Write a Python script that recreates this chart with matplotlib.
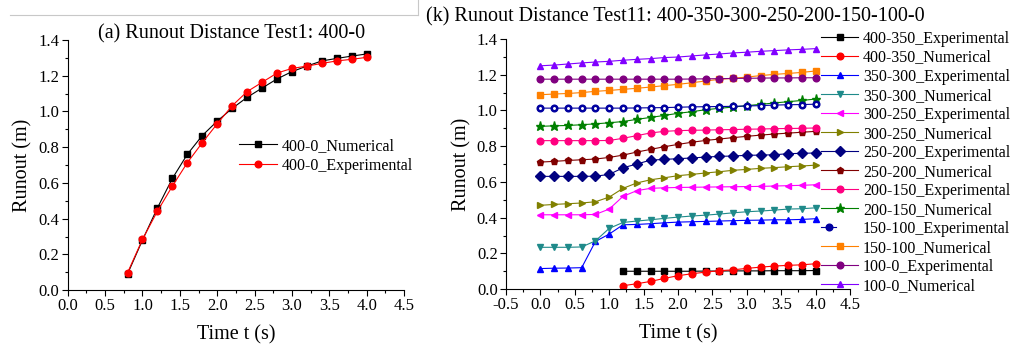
import matplotlib
matplotlib.use("Agg")
import matplotlib.pyplot as plt
from matplotlib.ticker import MultipleLocator, FormatStrFormatter
from matplotlib.legend_handler import HandlerTuple
from matplotlib.lines import Line2D

plt.rcParams['font.family'] = ['Liberation Serif', 'DejaVu Serif']

# ---- Test1: 400-0 ----
t1 = [0.8, 1.0, 1.2, 1.4, 1.6, 1.8, 2.0, 2.2, 2.4, 2.6, 2.8, 3.0, 3.2, 3.4, 3.6, 3.8, 4.0]
t1_num = [0.09, 0.28, 0.46, 0.625, 0.76, 0.865, 0.946, 1.017, 1.079, 1.131, 1.182,
          1.223, 1.254, 1.283, 1.297, 1.31, 1.322]
t1_exp = [0.097, 0.284, 0.442, 0.582, 0.713, 0.825, 0.931, 1.032, 1.111, 1.163, 1.215,
          1.241, 1.254, 1.269, 1.283, 1.292, 1.303]

# ---- Test11: 400-350-300-250-200-150-100-0 ----
t_full = [0.0, 0.2, 0.4, 0.6, 0.8, 1.0, 1.2, 1.4, 1.6, 1.8, 2.0, 2.2, 2.4, 2.6, 2.8,
          3.0, 3.2, 3.4, 3.6, 3.8, 4.0]
t_late = t_full[6:]

s400_350_exp = [0.100, 0.100, 0.100, 0.100, 0.100, 0.100, 0.101, 0.101, 0.102, 0.102,
                0.102, 0.103, 0.103, 0.103, 0.104]
s400_350_num = [0.019, 0.030, 0.043, 0.060, 0.075, 0.086, 0.095, 0.103, 0.108, 0.116,
                0.123, 0.129, 0.133, 0.136, 0.142]
s350_300_exp = [0.115, 0.117, 0.118, 0.120, 0.267, 0.308, 0.360, 0.362, 0.366, 0.371,
                0.375, 0.377, 0.379, 0.381, 0.383, 0.385, 0.386, 0.388, 0.388, 0.390, 0.394]
s350_300_num = [0.234, 0.234, 0.234, 0.236, 0.270, 0.340, 0.373, 0.381, 0.388, 0.396,
                0.403, 0.409, 0.414, 0.420, 0.427, 0.433, 0.437, 0.442, 0.448, 0.450, 0.455]
s300_250_exp = [0.416, 0.416, 0.416, 0.416, 0.418, 0.448, 0.519, 0.551, 0.564, 0.567,
                0.569, 0.570, 0.571, 0.572, 0.573, 0.574, 0.575, 0.577, 0.579, 0.581, 0.584]
s300_250_num = [0.469, 0.474, 0.478, 0.482, 0.489, 0.515, 0.564, 0.594, 0.612, 0.623,
                0.635, 0.642, 0.650, 0.657, 0.665, 0.670, 0.676, 0.680, 0.685, 0.689, 0.694]
s250_200_exp = [0.631, 0.631, 0.631, 0.631, 0.632, 0.642, 0.679, 0.700, 0.722, 0.726,
                0.730, 0.734, 0.739, 0.743, 0.745, 0.749, 0.750, 0.752, 0.758, 0.760, 0.762]
s250_200_num = [0.711, 0.715, 0.720, 0.724, 0.728, 0.737, 0.750, 0.767, 0.782, 0.797,
                0.810, 0.822, 0.832, 0.840, 0.848, 0.855, 0.862, 0.868, 0.873, 0.878, 0.883]
s200_150_exp = [0.831, 0.831, 0.831, 0.831, 0.831, 0.832, 0.844, 0.859, 0.874, 0.883,
                0.887, 0.889, 0.890, 0.892, 0.893, 0.895, 0.896, 0.898, 0.899, 0.900, 0.902]
s200_150_num = [0.911, 0.914, 0.916, 0.920, 0.925, 0.931, 0.938, 0.950, 0.961, 0.972,
                0.984, 0.993, 1.004, 1.012, 1.019, 1.027, 1.034, 1.042, 1.049, 1.056, 1.064]
s150_100_exp = [1.013, 1.013, 1.013, 1.013, 1.013, 1.013, 1.013, 1.014, 1.015, 1.016,
                1.018, 1.020, 1.021, 1.022, 1.023, 1.025, 1.027, 1.030, 1.032, 1.033, 1.035]
s150_100_num = [1.088, 1.092, 1.095, 1.100, 1.107, 1.112, 1.118, 1.124, 1.131, 1.139,
                1.146, 1.155, 1.165, 1.174, 1.180, 1.187, 1.195, 1.202, 1.207, 1.213, 1.221]
s100_0_exp = [1.175, 1.175, 1.175, 1.175, 1.175, 1.175, 1.175, 1.175, 1.175, 1.175,
              1.175, 1.176, 1.177, 1.178, 1.179, 1.180, 1.181, 1.182, 1.182, 1.183, 1.183]
s100_0_num = [1.250, 1.254, 1.260, 1.266, 1.271, 1.275, 1.281, 1.286, 1.290, 1.296,
              1.299, 1.305, 1.311, 1.316, 1.322, 1.326, 1.331, 1.335, 1.339, 1.342, 1.346]

series = [
    ("400-350_Experimental", t_late, s400_350_exp, "#000000", "s"),
    ("400-350_Numerical", t_late, s400_350_num, "#FF0000", "o"),
    ("350-300_Experimental", t_full, s350_300_exp, "#0000FF", "^"),
    ("350-300_Numerical", t_full, s350_300_num, "#1F8A8A", "v"),
    ("300-250_Experimental", t_full, s300_250_exp, "#FF00FF", "<"),
    ("300-250_Numerical", t_full, s300_250_num, "#808000", ">"),
    ("250-200_Experimental", t_full, s250_200_exp, "#000080", "D"),
    ("250-200_Numerical", t_full, s250_200_num, "#800000", "p"),
    ("200-150_Experimental", t_full, s200_150_exp, "#FF0080", "o"),
    ("200-150_Numerical", t_full, s200_150_num, "#008000", "*"),
    ("150-100_Experimental", t_full, s150_100_exp, "#0000A0", "o"),
    ("150-100_Numerical", t_full, s150_100_num, "#FF8000", "s"),
    ("100-0_Experimental", t_full, s100_0_exp, "#800080", "o"),
    ("100-0_Numerical", t_full, s100_0_num, "#8000FF", "^"),
]

fig = plt.figure(figsize=(10.11, 3.45), dpi=100)
ax1 = fig.add_axes([0.067, 0.159, 0.3326, 0.725])
ax2 = fig.add_axes([0.5005, 0.162, 0.3403, 0.725])


def style_axes(ax, xmin):
    for side in ("top", "right"):
        ax.spines[side].set_visible(False)
    ax.set_xlim(xmin, 4.5)
    ax.set_ylim(0, 1.4)
    ax.xaxis.set_major_locator(MultipleLocator(0.5))
    ax.xaxis.set_minor_locator(MultipleLocator(0.25))
    ax.yaxis.set_major_locator(MultipleLocator(0.2))
    ax.yaxis.set_minor_locator(MultipleLocator(0.1))
    ax.xaxis.set_major_formatter(FormatStrFormatter('%.1f'))
    ax.yaxis.set_major_formatter(FormatStrFormatter('%.1f'))
    ax.tick_params(which='major', direction='out', length=4, width=0.8, labelsize=12, pad=2)
    ax.tick_params(which='minor', direction='out', length=2.2, width=0.8)
    ax.set_xlabel("Time t (s)", fontsize=14.5, labelpad=8)
    ax.set_ylabel("Runout (m)", fontsize=14.5, labelpad=4)


# left panel
ax1.plot(t1, t1_num, color='black', lw=0.8, marker='s', ms=4.5, label="400-0_Numerical")
ax1.plot(t1, t1_exp, color='#FF0000', lw=0.8, marker='o', ms=4.8, label="400-0_Experimental")
style_axes(ax1, 0.0)
ax1.legend(loc='upper left', bbox_to_anchor=(0.49, 0.635), frameon=False, fontsize=11.5,
           handlelength=2.4, handletextpad=0.3, labelspacing=0.25, borderaxespad=0)
fig.text(0.229, 0.903, "(a) Runout Distance Test1: 400-0", fontsize=14.5, ha='center', va='center')

# right panel
handles = []
for label, tt, yy, col, mk in series:
    ln, = ax2.plot(tt, yy, color=col, lw=0.8, marker=mk,
                   ms=6.5 if mk == '*' else 4.8, label=label)
    if label == "150-100_Experimental":
        dot, = ax2.plot(tt, yy, ls='none', marker='o', ms=1.1, mfc='white', mec='white')
        handles.append((ln, dot))
    else:
        handles.append(ln)
style_axes(ax2, -0.5)
fig.legend(handles, [s[0] for s in series], loc='upper left', bbox_to_anchor=(0.806, 0.93),
           frameon=False, fontsize=11.5, handlelength=2.3, handletextpad=0.3,
           labelspacing=0.19, borderaxespad=0, handler_map={tuple: HandlerTuple(ndivide=None)})
fig.text(0.668, 0.951, "(k) Runout Distance Test11: 400-350-300-250-200-150-100-0",
         fontsize=14.5, ha='center', va='center')

# thin frame line along the top of the left figure
fig.add_artist(Line2D([10 / 1011, 418 / 1011], [1 - 15 / 345, 1 - 15 / 345],
                      color='#c8c8c8', lw=0.8))
fig.add_artist(Line2D([418 / 1011, 418 / 1011], [1 - 15 / 345, 1.0], color='#c8c8c8', lw=0.8))

fig.savefig("out.png", dpi=100)
